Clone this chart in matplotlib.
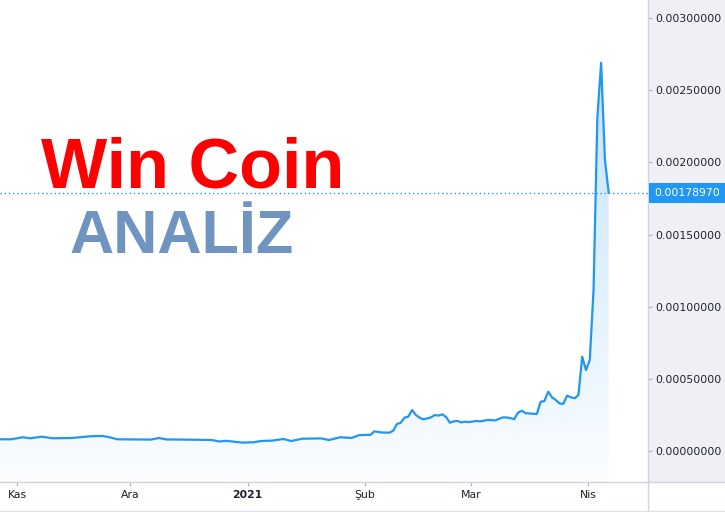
import numpy as np
import matplotlib
matplotlib.use('Agg')
import matplotlib.pyplot as plt
import matplotlib.transforms as mtransforms
from matplotlib.patches import Rectangle
from matplotlib.lines import Line2D

# gün sayısı: 2020-11-01 = 0
days = [-5, -2, 1, 3, 6, 9, 14, 19, 22, 24, 26, 30, 35, 37, 39, 46, 51, 53, 55,
        59, 62, 64, 67, 70, 72, 75, 80, 82, 85, 88, 90, 93, 94, 96, 98, 99,
        100, 101, 102, 103, 104, 105, 106, 107, 108, 109, 110, 111, 112, 113,
        114, 115, 116, 117, 118, 119, 121, 122, 124, 126, 128, 129, 130, 131,
        132, 133, 134, 135, 136, 137, 138, 139, 140, 141, 142, 143, 144, 145,
        146, 147, 148, 149, 150, 151, 152, 153, 154, 155, 156]
prices = [0.000081, 0.000081, 0.000095, 0.000088, 0.000099, 0.000088, 0.000090,
          0.000102, 0.000104, 0.000095, 0.000081, 0.000080, 0.000079, 0.000090,
          0.000080, 0.000078, 0.000076, 0.000066, 0.000070, 0.000058, 0.000060,
          0.000069, 0.000072, 0.000083, 0.000069, 0.000085, 0.000087, 0.000076,
          0.000095, 0.000090, 0.000110, 0.000112, 0.000136, 0.000128, 0.000127,
          0.000140, 0.000187, 0.000195, 0.000231, 0.000238, 0.000284, 0.000250,
          0.000230, 0.000220, 0.000225, 0.000233, 0.000249, 0.000245, 0.000254,
          0.000235, 0.000196, 0.000205, 0.000208, 0.000198, 0.000203, 0.000200,
          0.000208, 0.000205, 0.000215, 0.000212, 0.000233, 0.000232, 0.000228,
          0.000220, 0.000265, 0.000279, 0.000262, 0.000260, 0.000258, 0.000256,
          0.000341, 0.000346, 0.000411, 0.000372, 0.000353, 0.000330, 0.000326,
          0.000383, 0.000372, 0.000365, 0.000388, 0.000653, 0.000561, 0.000630,
          0.001120, 0.002310, 0.002690, 0.002020, 0.0017897]
last_price = 0.0017897

tick_days = [0, 30, 61, 92, 120, 151]
tick_labels = ['Kas', 'Ara', '2021', 'Şub', 'Mar', 'Nis']
y_ticks = [0.0, 0.0005, 0.0010, 0.0015, 0.0020, 0.0025, 0.0030]

W, H = 725, 512
LINE = '#2196f3'
BORDER = '#d1d4dc'
TXT = '#1e222d'

fig = plt.figure(figsize=(W / 100, H / 100), dpi=100)
fig.patch.set_facecolor('white')

# sağ fiyat ekseni paneli
fig.patches.append(Rectangle((648 / W, 30 / H), 77 / W, 482 / H, transform=fig.transFigure,
                             facecolor='#eff0f5', edgecolor='none', zorder=-1))

ax = fig.add_axes([0, 30 / H, 648 / W, 482 / H])
ax.set_facecolor('white')

xs = np.array(days) + 0.5
ys = np.array(prices)
ymin, ymax = -0.000215, 0.003125

# gradyan dolgu
grad = np.zeros((256, 1, 4))
grad[:, 0, 0] = 33 / 255
grad[:, 0, 1] = 150 / 255
grad[:, 0, 2] = 243 / 255
grad[:, 0, 3] = np.linspace(0.02, 0.27, 256)
im = ax.imshow(grad, extent=[xs[0], xs[-1], ymin, ys.max()], origin='lower',
               aspect='auto', zorder=1, interpolation='bilinear')
poly = ax.fill_between(xs, ys, ymin, color='none', linewidth=0)
im.set_clip_path(poly.get_paths()[0], transform=ax.transData)

ax.plot(xs, ys, color=LINE, lw=1.6, solid_joinstyle='round', zorder=3)
ax.axhline(last_price, color=LINE, lw=1, ls=(0, (1, 2)), zorder=2)

ax.set_xlim(-4.5, 166.9)
ax.set_ylim(ymin, ymax)

ax.yaxis.tick_right()
ax.set_yticks(y_ticks)
ax.set_yticklabels(['%.8f' % v for v in y_ticks])
ax.set_xticks(tick_days)
ax.set_xticklabels(tick_labels)
ax.get_xticklabels()[2].set_fontweight('bold')
ax.tick_params(axis='y', direction='out', length=3, width=0.8, color='#b2b5be',
               labelsize=7.8, labelcolor=TXT, pad=2.5)
ax.tick_params(axis='x', direction='out', length=3, width=0.8, color='#b2b5be',
               labelsize=7.8, labelcolor=TXT, pad=3)

for s in ['top', 'left']:
    ax.spines[s].set_visible(False)
for s in ['right', 'bottom']:
    ax.spines[s].set_color(BORDER)
    ax.spines[s].set_linewidth(1)

# son fiyat etiketi
trans = mtransforms.blended_transform_factory(ax.transAxes, ax.transData)
ax.annotate('0.00178970', xy=(1.0, last_price), xycoords=trans, xytext=(4.5, 0),
            textcoords='offset points', ha='left', va='center', fontsize=7.8,
            color='white', annotation_clip=False,
            bbox=dict(boxstyle='square,pad=0.45', fc=LINE, ec='none'))

# çerçeve çizgileri
fig.lines.append(Line2D([648 / W, 1], [30 / H, 30 / H], transform=fig.transFigure,
                        color=BORDER, lw=1))
fig.lines.append(Line2D([648 / W, 648 / W], [0, 30 / H], transform=fig.transFigure,
                        color=BORDER, lw=1))
fig.lines.append(Line2D([0, 1], [1.5 / H, 1.5 / H], transform=fig.transFigure,
                        color='#e0e3eb', lw=1))

# başlık
fig.text(41 / W, (H - 187) / H, 'Win Coin', fontsize=50.5, fontweight='bold',
         color='#ff0000', family=['Liberation Sans', 'DejaVu Sans'],
         ha='left', va='baseline')
fig.text(69 / W, (H - 253) / H, 'ANALİZ', fontsize=44, fontweight='bold',
         color='#7094c0', family=['Liberation Sans', 'DejaVu Sans'],
         ha='left', va='baseline')

fig.savefig('out.png', dpi=100)
